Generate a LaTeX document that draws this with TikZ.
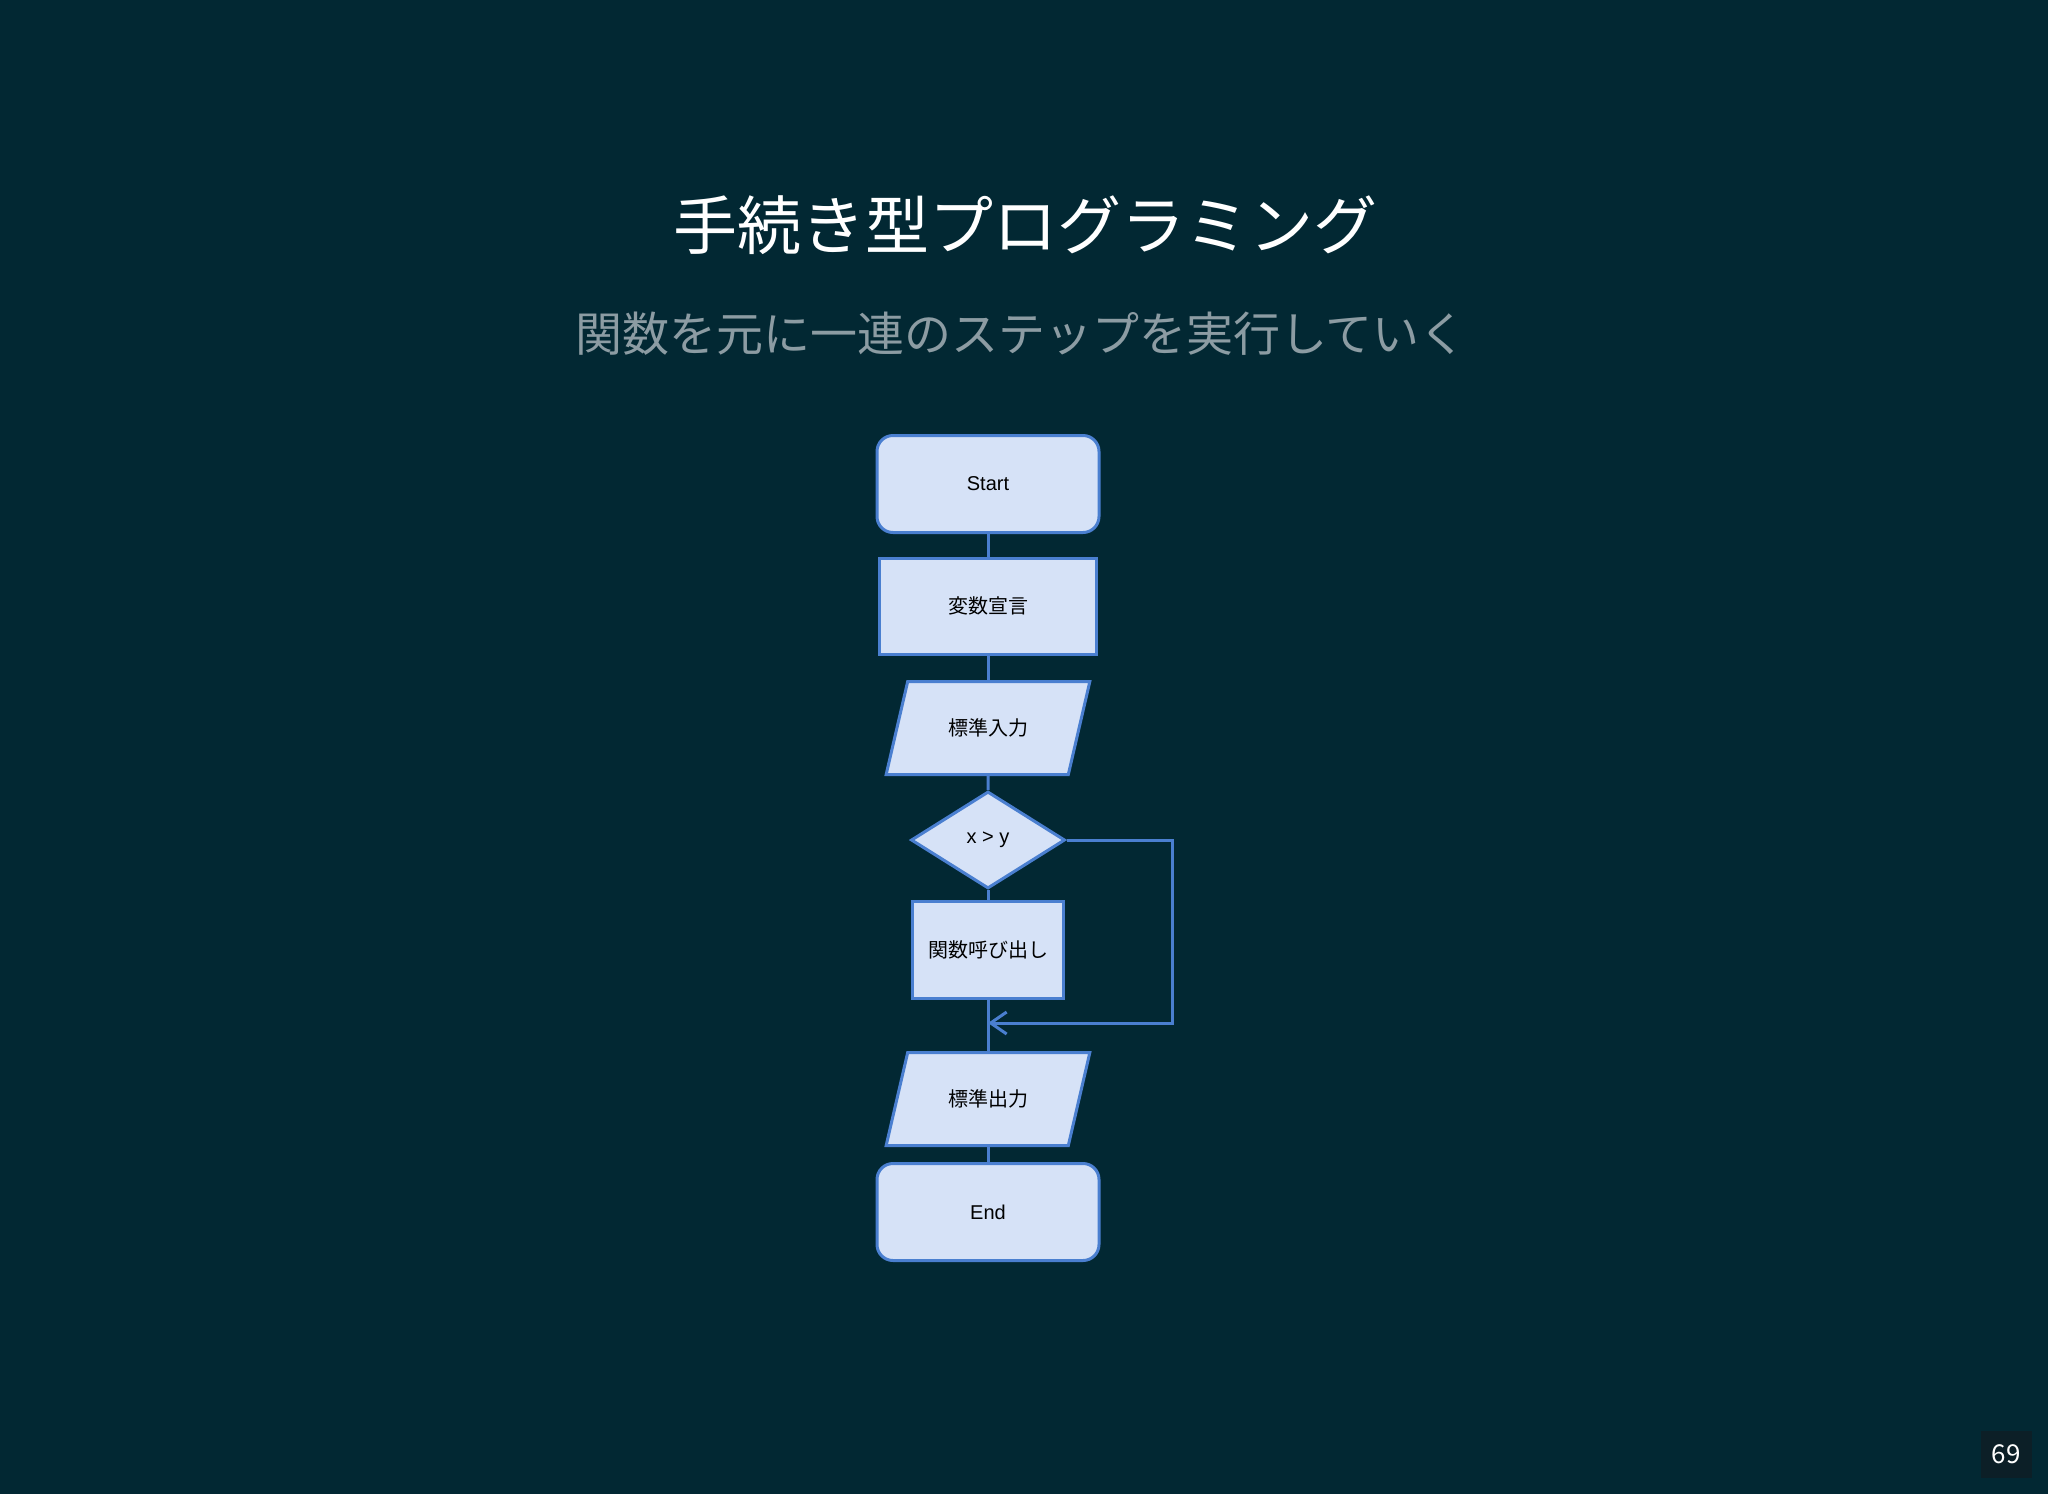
\documentclass[tikz,border=0pt]{standalone}
\usepackage{fontspec}
\setmainfont{Liberation Sans}
\newfontfamily\jp{Noto Sans CJK JP}
\usetikzlibrary{shapes.geometric,arrows.meta}
\definecolor{bg}{HTML}{022833}
\definecolor{boxfill}{HTML}{D6E2F7}
\definecolor{boxline}{HTML}{4A7FD0}
\definecolor{sub}{HTML}{8C9CA3}
\definecolor{pgbox}{HTML}{0C1F27}
\begin{document}
\begin{tikzpicture}[x=1pt,y=-1pt,
  base/.style={draw=boxline,fill=boxfill,line width=3pt,font=\jp\fontsize{20}{24}\selectfont,text=black,inner sep=0pt},
  term/.style={base,rounded corners=16pt,minimum width=222pt,minimum height=97pt},
  proc/.style={base,minimum width=217pt,minimum height=96pt},
  proc2/.style={base,minimum width=151pt,minimum height=97pt},
  io/.style={base,trapezium,trapezium left angle=60,trapezium right angle=120,minimum width=155pt,minimum height=93pt,trapezium stretches=true},
  dec/.style={base,diamond,minimum width=154pt,minimum height=97pt,aspect=1.6},
  link/.style={draw=boxline,line width=3pt}]
\fill[bg] (0,0) rectangle (2048,1494);
\node[text=white,font=\jp\fontsize{64}{70}\selectfont] (title) at (1025,225) {手続き型プログラミング};
\node[text=sub,font=\jp\fontsize{47}{52}\selectfont] (subtitle) at (1021,334) {関数を元に一連のステップを実行していく};
\node[term] (start) at (988,484) {\fontspec{Liberation Sans}Start};
\node[proc] (decl) at (988,606) {変数宣言};
\node[io,minimum width=204pt] (in) at (988,728) {標準入力};
\node[dec] (cond) at (988,840) {\fontspec{Liberation Sans}x > y};
\node[proc2] (call) at (988,950) {関数呼び出し};
\node[io,minimum width=204pt] (out) at (988,1099) {標準出力};
\node[term] (end) at (988,1212) {\fontspec{Liberation Sans}End};
\coordinate (j) at (988,1023);
\coordinate (r1) at (1172,840);
\coordinate (r2) at (1172,1023);
\draw[link] (start) -- (decl);
\draw[link] (decl) -- (in);
\draw[link] (in) -- (cond);
\draw[link] (cond) -- (call);
\draw[link] (call) -- (out);
\draw[link] (out) -- (end);
\draw[link,-{Straight Barb[length=16pt,width=22pt,line width=3pt]}] (cond.east) -- (r1) -- (r2) -- (j);
\node[fill=pgbox,minimum width=51pt,minimum height=47pt,text=white,font=\jp\fontsize{26}{28}\selectfont] (pg) at (2006,1454) {69};
\end{tikzpicture}
\end{document}
